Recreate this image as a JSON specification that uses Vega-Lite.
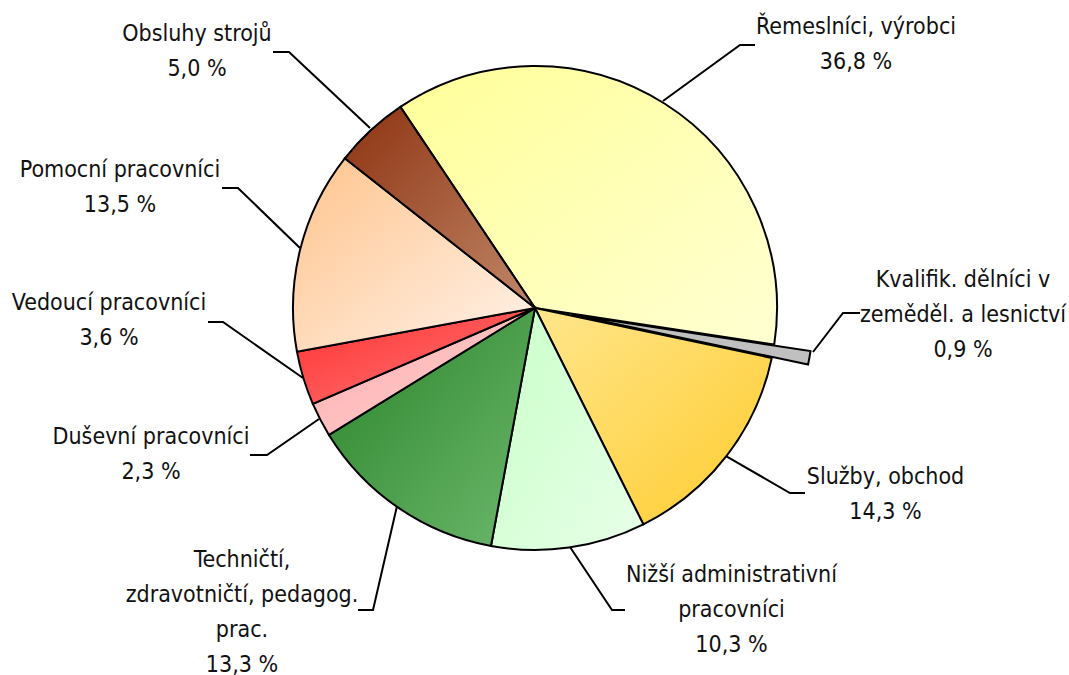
{
  "$schema": "https://vega.github.io/schema/vega-lite/v6.json",
  "width": 1069,
  "height": 675,
  "padding": 0,
  "autosize": {"type": "none"},
  "background": "white",
  "config": {"view": {"stroke": null}},
  "datasets": {
    "slices": [
      {"idx": 1, "cat": "Řemeslníci, výrobci", "value": 36.8},
      {"idx": 2, "cat": "Kvalifik. dělníci v zeměděl. a lesnictví", "value": 0.9},
      {"idx": 3, "cat": "Služby, obchod", "value": 14.3},
      {"idx": 4, "cat": "Nižší administrativní pracovníci", "value": 10.3},
      {"idx": 5, "cat": "Techničtí, zdravotničtí, pedagog. prac.", "value": 13.3},
      {"idx": 6, "cat": "Duševní pracovníci", "value": 2.3},
      {"idx": 7, "cat": "Vedoucí pracovníci", "value": 3.6},
      {"idx": 8, "cat": "Pomocní pracovníci", "value": 13.5},
      {"idx": 9, "cat": "Obsluhy strojů", "value": 5.0}
    ],
    "leaders": [
      {"lab": "Obsluhy", "i": 1, "u": -1.0826, "v": 1.0579},
      {"lab": "Obsluhy", "i": 2, "u": -1.0165, "v": 1.0579},
      {"lab": "Obsluhy", "i": 3, "u": -0.6818, "v": 0.7438},
      {"lab": "Remesl", "i": 1, "u": 0.9091, "v": 1.0868},
      {"lab": "Remesl", "i": 2, "u": 0.8471, "v": 1.0868},
      {"lab": "Remesl", "i": 3, "u": 0.5289, "v": 0.8554},
      {"lab": "Kval", "i": 1, "u": 1.3430, "v": -0.0207},
      {"lab": "Kval", "i": 2, "u": 1.2727, "v": -0.0207},
      {"lab": "Kval", "i": 3, "u": 1.1488, "v": -0.1818},
      {"lab": "Pomocni", "i": 1, "u": -1.2934, "v": 0.4959},
      {"lab": "Pomocni", "i": 2, "u": -1.2273, "v": 0.4959},
      {"lab": "Pomocni", "i": 3, "u": -0.9711, "v": 0.2479},
      {"lab": "Vedouci", "i": 1, "u": -1.3512, "v": -0.0579},
      {"lab": "Vedouci", "i": 2, "u": -1.2893, "v": -0.0579},
      {"lab": "Vedouci", "i": 3, "u": -0.9587, "v": -0.2893},
      {"lab": "Dusevni", "i": 1, "u": -1.1777, "v": -0.6074},
      {"lab": "Dusevni", "i": 2, "u": -1.1074, "v": -0.6074},
      {"lab": "Dusevni", "i": 3, "u": -0.8926, "v": -0.4587},
      {"lab": "Tech", "i": 1, "u": -0.7314, "v": -1.2479},
      {"lab": "Tech", "i": 2, "u": -0.6694, "v": -1.2479},
      {"lab": "Tech", "i": 3, "u": -0.5702, "v": -0.8182},
      {"lab": "Sluzby", "i": 1, "u": 1.1157, "v": -0.7645},
      {"lab": "Sluzby", "i": 2, "u": 1.0537, "v": -0.7645},
      {"lab": "Sluzby", "i": 3, "u": 0.7893, "v": -0.6116},
      {"lab": "Nizsi", "i": 1, "u": 0.3719, "v": -1.2479},
      {"lab": "Nizsi", "i": 2, "u": 0.3182, "v": -1.2479},
      {"lab": "Nizsi", "i": 3, "u": 0.1446, "v": -0.9876}
    ],
    "labels": [
      {"text": "Obsluhy strojů\n5,0 %", "u": -1.3967, "v": 1.1322},
      {"text": "Řemeslníci, výrobci\n36,8 %", "u": 1.3264, "v": 1.1612},
      {"text": "Kvalifik. dělníci v\nzeměděl. a lesnictví\n0,9 %", "u": 1.7686, "v": 0.1157},
      {"text": "Pomocní pracovníci\n13,5 %", "u": -1.7149, "v": 0.5702},
      {"text": "Vedoucí pracovníci\n3,6 %", "u": -1.7603, "v": 0.0207},
      {"text": "Duševní pracovníci\n2,3 %", "u": -1.5868, "v": -0.5318},
      {"text": "Techničtí,\nzdravotničtí, pedagog.\nprac.\n13,3 %", "u": -1.2107, "v": -1.0413},
      {"text": "Služby, obchod\n14,3 %", "u": 1.4483, "v": -0.6971},
      {"text": "Nižší administrativní\npracovníci\n10,3 %", "u": 0.8120, "v": -1.1033}
    ]
  },
  "layer": [
    {
      "data": {"name": "slices"},
      "mark": {"type": "arc", "outerRadius": 242, "stroke": "black", "strokeWidth": 2},
      "encoding": {
        "x": {"datum": 0, "type": "quantitative", "scale": {"domain": [-2.2107, 2.2066], "nice": false, "zero": false}, "axis": null},
        "y": {"datum": 0, "type": "quantitative", "scale": {"domain": [-1.5165, 1.2727], "nice": false, "zero": false}, "axis": null},
        "theta": {"field": "value", "type": "quantitative", "stack": true, "scale": {"range": [-0.5899, 5.6933]}},
        "order": {"field": "idx", "type": "quantitative"},
        "opacity": {"condition": {"test": "datum.idx === 2", "value": 0}, "value": 1},
        "fill": {
          "condition": [
            {"test": "datum.idx === 1", "value": {"gradient": "linear", "x1": 0, "y1": 0, "x2": 1, "y2": 1, "stops": [{"offset": 0, "color": "#FFFF99"}, {"offset": 1, "color": "#FFFFD2"}]}},
            {"test": "datum.idx === 3", "value": {"gradient": "linear", "x1": 0, "y1": 0, "x2": 1, "y2": 1, "stops": [{"offset": 0, "color": "#FFE68C"}, {"offset": 1, "color": "#FFCC2E"}]}},
            {"test": "datum.idx === 4", "value": {"gradient": "linear", "x1": 0, "y1": 0, "x2": 1, "y2": 1, "stops": [{"offset": 0, "color": "#C8FFC8"}, {"offset": 1, "color": "#E8FFE8"}]}},
            {"test": "datum.idx === 5", "value": {"gradient": "linear", "x1": 0, "y1": 0, "x2": 1, "y2": 1, "stops": [{"offset": 0, "color": "#2A832A"}, {"offset": 1, "color": "#6CB86C"}]}},
            {"test": "datum.idx === 6", "value": {"gradient": "linear", "x1": 0, "y1": 0, "x2": 1, "y2": 1, "stops": [{"offset": 0, "color": "#FFA8A8"}, {"offset": 1, "color": "#FFD6D6"}]}},
            {"test": "datum.idx === 7", "value": {"gradient": "linear", "x1": 0, "y1": 0, "x2": 1, "y2": 1, "stops": [{"offset": 0, "color": "#FF3030"}, {"offset": 1, "color": "#FF7A7A"}]}},
            {"test": "datum.idx === 8", "value": {"gradient": "linear", "x1": 0, "y1": 0, "x2": 1, "y2": 1, "stops": [{"offset": 0, "color": "#FFC48C"}, {"offset": 1, "color": "#FFF2EA"}]}},
            {"test": "datum.idx === 9", "value": {"gradient": "linear", "x1": 0, "y1": 0, "x2": 1, "y2": 1, "stops": [{"offset": 0, "color": "#8E3312"}, {"offset": 1, "color": "#C08868"}]}}
          ],
          "value": "#C0C0C0"
        }
      }
    },
    {
      "data": {"name": "slices"},
      "mark": {"type": "arc", "outerRadius": 242, "stroke": "black", "strokeWidth": 2, "fill": "#C0C0C0"},
      "encoding": {
        "x": {"datum": 0.15, "type": "quantitative"},
        "y": {"datum": -0.027, "type": "quantitative"},
        "theta": {"field": "value", "type": "quantitative", "stack": true},
        "order": {"field": "idx", "type": "quantitative"},
        "opacity": {"condition": {"test": "datum.idx === 2", "value": 1}, "value": 0}
      }
    },
    {
      "data": {"name": "leaders"},
      "mark": {"type": "line", "color": "black", "strokeWidth": 2},
      "encoding": {
        "x": {"field": "u", "type": "quantitative"},
        "y": {"field": "v", "type": "quantitative"},
        "detail": {"field": "lab", "type": "nominal"},
        "order": {"field": "i", "type": "quantitative"}
      }
    },
    {
      "data": {"name": "labels"},
      "mark": {"type": "text", "align": "center", "baseline": "middle", "lineBreak": "\n", "lineHeight": 35, "fontSize": 23, "font": "DejaVu Sans Condensed, Liberation Sans Narrow, sans-serif", "color": "#111111"},
      "encoding": {
        "x": {"field": "u", "type": "quantitative"},
        "y": {"field": "v", "type": "quantitative"},
        "text": {"field": "text", "type": "nominal"}
      }
    }
  ]
}
